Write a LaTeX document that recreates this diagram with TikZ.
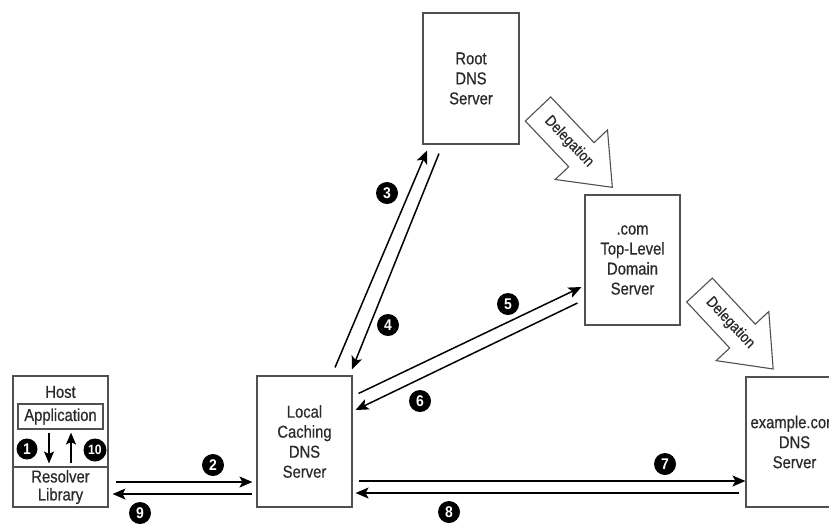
\documentclass[tikz,border=0pt]{standalone}
\usepackage{fontspec}
\setmainfont{Liberation Sans}
\newfontfamily\cond{Liberation Sans}[FakeStretch=0.86,FakeBold=0.6]
\newfontfamily\condb{Liberation Sans Bold}[FakeStretch=0.9]
\usetikzlibrary{arrows.meta,calc}
\definecolor{boxline}{HTML}{505050}
\definecolor{txt}{HTML}{2A2A2A}
\begin{document}
\begin{tikzpicture}[x=1pt,y=-1pt,
  srv/.style={draw=boxline,line width=1.1pt,rectangle,inner sep=0pt,align=center,
    text=txt,font=\cond\fontsize{17.2}{20}\selectfont},
  lbl/.style={inner sep=0pt,align=center,text=txt,font=\cond\fontsize{17.2}{18}\selectfont},
  badge/.style={circle,fill=black,text=white,inner sep=0pt,minimum size=22pt,
    font=\condb\fontsize{15.5}{15.5}\selectfont},
  conn/.style={draw=black,line width=1.5pt,-{Stealth[length=13pt,width=11pt,inset=3pt]}},
  small/.style={draw=black,line width=1.5pt,-{Stealth[length=12pt,width=10pt,inset=2.5pt]}},
  deleg/.style={draw=boxline,line width=1.1pt,fill=white,line join=miter}]
\useasboundingbox (0,0) rectangle (829,523);
\clip (0,0) rectangle (829,523);

% Host
\node[srv,minimum width=95pt,minimum height=91pt] (host) at (60.5,421.5) {};
\node[lbl] (hostlbl) at (60.5,392) {Host};
\node[srv,minimum width=85pt,minimum height=25pt] (app) at (60.5,416.5) {Application};
\node[srv,minimum width=95pt,minimum height=40pt] (res) at (60.5,487) {Resolver\\[-2pt]Library};
\draw[small] ([xshift=-11.5pt,yshift=-3pt]app.south) -- ([xshift=-11.5pt,yshift=3pt]res.north);
\draw[small] ([xshift=10.5pt,yshift=3pt]res.north) -- ([xshift=10.5pt,yshift=-3pt]app.south);
\node[badge,minimum size=21pt] (b1) at (27,449) {1};
\node[badge,minimum size=23pt,font=\condb\fontsize{13.5}{13.5}\selectfont] (b10) at (95,450) {10};

% Servers
\node[srv,minimum width=95pt,minimum height=131pt] (local) at (304.5,441.5) {Local\\Caching\\DNS\\Server};
\node[srv,minimum width=96pt,minimum height=131pt] (root) at (471,78.5) {Root\\DNS\\Server};
\node[srv,minimum width=95pt,minimum height=130pt] (tld) at (632.5,260) {.com\\Top-Level\\Domain\\Server};
\node[srv,minimum width=97pt,minimum height=130pt] (ex) at (794.5,442) {example.com\\DNS\\Server};

% Delegation arrows
\begin{scope}[shift={(538,109)},rotate=-46.5]
  \draw[deleg] (0,-17.5) -- (63,-17.5) -- (63,-36) -- (108,0) -- (63,36) -- (63,17.5) -- (0,17.5) -- cycle;
  \node[lbl,rotate=-46.5,font=\cond\fontsize{15.5}{15.5}\selectfont] (d1) at (45,0) {Delegation};
\end{scope}
\begin{scope}[shift={(699.5,290)},rotate=-47]
  \draw[deleg] (0,-17.5) -- (63,-17.5) -- (63,-36) -- (108,0) -- (63,36) -- (63,17.5) -- (0,17.5) -- cycle;
  \node[lbl,rotate=-47,font=\cond\fontsize{15.5}{15.5}\selectfont] (d2) at (45,0) {Delegation};
\end{scope}

% Connectors
\draw[conn] ([xshift=7pt,yshift=5pt]res.east) -- ([xshift=-4pt,yshift=-40.5pt]local.west);
\draw[conn] ([xshift=-4pt,yshift=-52.5pt]local.west) -- ([xshift=4pt,yshift=-7pt]res.east);
\draw[conn] ([xshift=30.5pt,yshift=8pt]local.north) -- ([xshift=-44pt,yshift=-6pt]root.south);
\draw[conn] ([xshift=-32pt,yshift=-9pt]root.south) -- ([xshift=47.5pt,yshift=6pt]local.north);
\draw[conn] ([xshift=6pt,yshift=-18pt]local.north east) -- ([xshift=-3pt,yshift=-27pt]tld.west);
\draw[conn] ([xshift=-7pt,yshift=-43pt]tld.west) -- ([xshift=3pt,yshift=31.5pt]local.east);
\draw[conn] ([xshift=6pt,yshift=-39.5pt]local.east) -- ([xshift=0pt,yshift=-39pt]ex.west);
\draw[conn] ([xshift=-6pt,yshift=-51pt]ex.west) -- ([xshift=3pt,yshift=-51.5pt]local.east);

% Badges
\node[badge] (b2) at (213,465) {2};
\node[badge] (b3) at (387,193) {3};
\node[badge] (b4) at (388,325) {4};
\node[badge] (b5) at (508,304) {5};
\node[badge] (b6) at (420,401) {6};
\node[badge] (b7) at (665,464) {7};
\node[badge] (b8) at (449,512) {8};
\node[badge] (b9) at (140,513) {9};
\end{tikzpicture}
\end{document}
